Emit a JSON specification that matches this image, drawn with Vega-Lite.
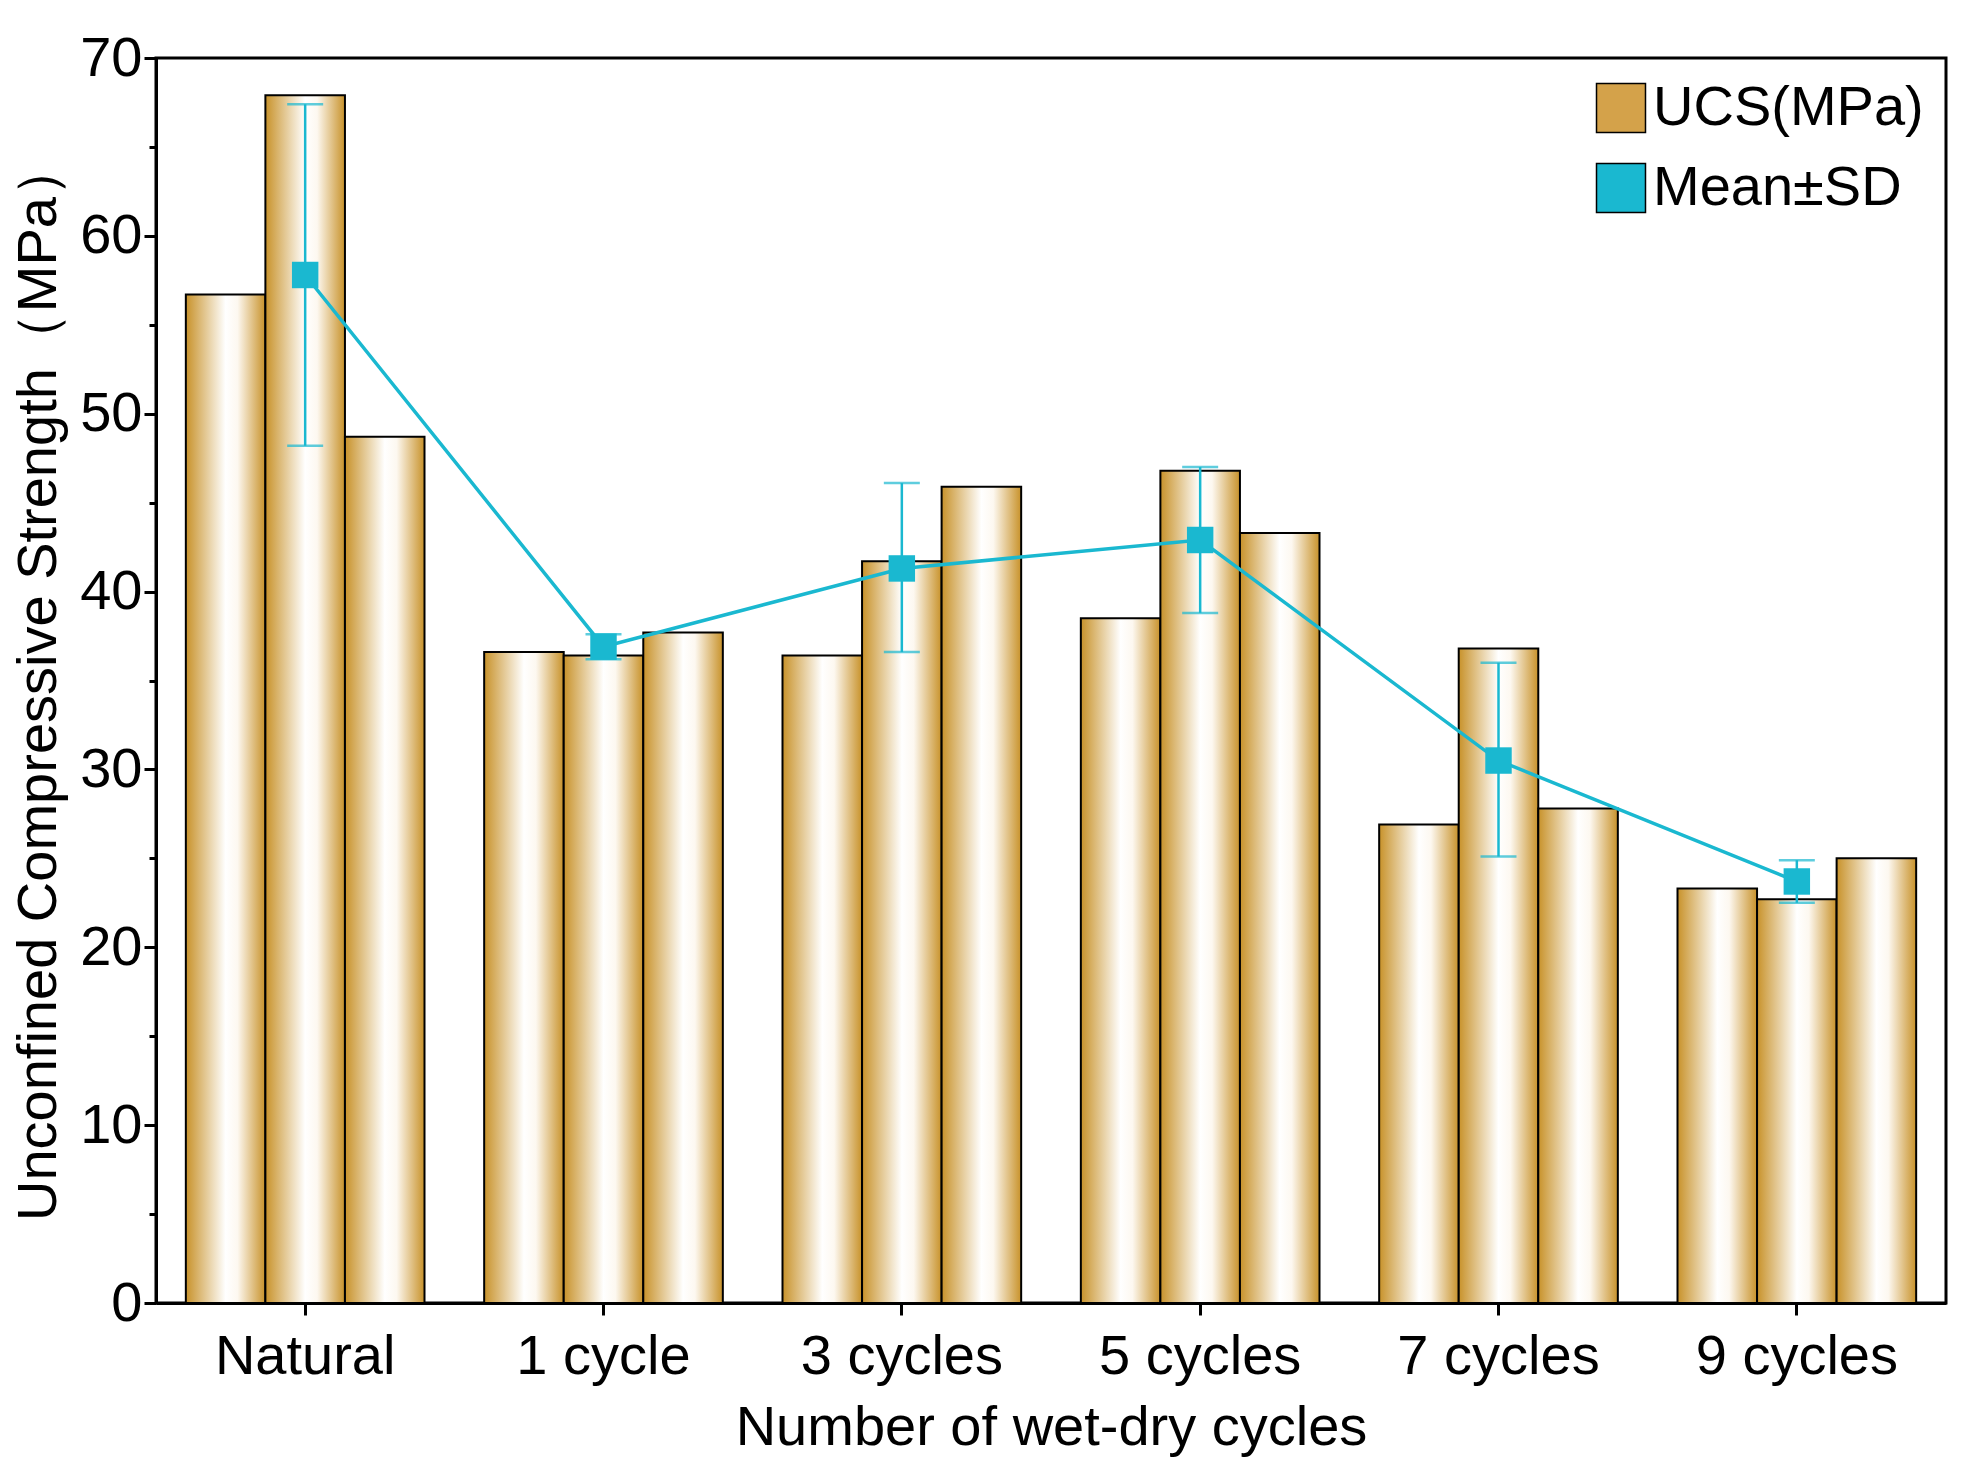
{
  "$schema": "https://vega.github.io/schema/vega-lite/v6.json",
  "width": 1790,
  "height": 1245,
  "background": "white",
  "padding": {"left": 10, "top": 30, "right": 8, "bottom": 5},
  "datasets": {
    "bars": [
      {"cycle": "Natural", "sample": 1, "ucs": 56.7},
      {"cycle": "Natural", "sample": 2, "ucs": 67.9},
      {"cycle": "Natural", "sample": 3, "ucs": 48.7},
      {"cycle": "1 cycle", "sample": 1, "ucs": 36.6},
      {"cycle": "1 cycle", "sample": 2, "ucs": 36.4},
      {"cycle": "1 cycle", "sample": 3, "ucs": 37.7},
      {"cycle": "3 cycles", "sample": 1, "ucs": 36.4},
      {"cycle": "3 cycles", "sample": 2, "ucs": 41.7},
      {"cycle": "3 cycles", "sample": 3, "ucs": 45.9},
      {"cycle": "5 cycles", "sample": 1, "ucs": 38.5},
      {"cycle": "5 cycles", "sample": 2, "ucs": 46.8},
      {"cycle": "5 cycles", "sample": 3, "ucs": 43.3},
      {"cycle": "7 cycles", "sample": 1, "ucs": 26.9},
      {"cycle": "7 cycles", "sample": 2, "ucs": 36.8},
      {"cycle": "7 cycles", "sample": 3, "ucs": 27.8},
      {"cycle": "9 cycles", "sample": 1, "ucs": 23.3},
      {"cycle": "9 cycles", "sample": 2, "ucs": 22.7},
      {"cycle": "9 cycles", "sample": 3, "ucs": 25.0}
    ],
    "stats": [
      {"cycle": "Natural", "mean": 57.8, "lo": 48.2, "hi": 67.4, "series": "Mean±SD"},
      {"cycle": "1 cycle", "mean": 36.9, "lo": 36.2, "hi": 37.6, "series": "Mean±SD"},
      {"cycle": "3 cycles", "mean": 41.3, "lo": 36.6, "hi": 46.1, "series": "Mean±SD"},
      {"cycle": "5 cycles", "mean": 42.9, "lo": 38.8, "hi": 47.0, "series": "Mean±SD"},
      {"cycle": "7 cycles", "mean": 30.5, "lo": 25.1, "hi": 36.0, "series": "Mean±SD"},
      {"cycle": "9 cycles", "mean": 23.7, "lo": 22.5, "hi": 24.9, "series": "Mean±SD"}
    ]
  },
  "encoding": {
    "x": {
      "field": "cycle", "type": "nominal",
      "sort": ["Natural", "1 cycle", "3 cycles", "5 cycles", "7 cycles", "9 cycles"],
      "scale": {"paddingInner": 0.2, "paddingOuter": 0.1},
      "title": "Number of wet-dry cycles",
      "axis": {"labelAngle": 0, "labelPadding": 14, "tickSize": 12, "titlePadding": 16}
    }
  },
  "layer": [
    {
      "data": {"name": "bars"},
      "mark": {
        "type": "bar",
        "stroke": "black",
        "strokeWidth": 2,
        "color": {
          "gradient": "linear", "x1": 0, "y1": 0, "x2": 1, "y2": 0,
          "stops": [
            {"offset": 0, "color": "#c8922a"},
            {"offset": 0.5, "color": "#ffffff"},
            {"offset": 0.65, "color": "#fdf8f0"},
            {"offset": 1, "color": "#c8922a"}
          ]
        }
      },
      "encoding": {
        "xOffset": {"field": "sample", "type": "nominal", "scale": {"paddingInner": 0}},
        "y": {
          "field": "ucs", "type": "quantitative",
          "scale": {"domain": [0, 70], "nice": false},
          "title": "Unconfined Compressive Strength（MPa）",
          "axis": {
            "values": [0, 5, 10, 15, 20, 25, 30, 35, 40, 45, 50, 55, 60, 65, 70],
            "labelExpr": "datum.value % 10 === 0 ? datum.label : ''",
            "tickSize": {"condition": {"test": "datum.value % 10 === 0", "value": 12}, "value": 7},
            "titlePadding": 12
          }
        }
      }
    },
    {
      "data": {"name": "stats"},
      "mark": {"type": "rule", "color": "#1ab8d0", "strokeWidth": 2.5},
      "encoding": {"y": {"field": "lo", "type": "quantitative"}, "y2": {"field": "hi"}}
    },
    {
      "data": {"name": "stats"},
      "mark": {"type": "tick", "color": "#1ab8d0", "thickness": 2.5, "size": 36},
      "encoding": {"y": {"field": "lo", "type": "quantitative"}}
    },
    {
      "data": {"name": "stats"},
      "mark": {"type": "tick", "color": "#1ab8d0", "thickness": 2.5, "size": 36},
      "encoding": {"y": {"field": "hi", "type": "quantitative"}}
    },
    {
      "data": {"name": "stats"},
      "mark": {"type": "line", "strokeWidth": 3.5, "color": "#1ab8d0"},
      "encoding": {"y": {"field": "mean", "type": "quantitative"}}
    },
    {
      "data": {"name": "stats"},
      "mark": {"type": "square", "size": 700, "opacity": 1, "filled": true},
      "encoding": {
        "y": {"field": "mean", "type": "quantitative"},
        "color": {
          "field": "series", "type": "nominal",
          "scale": {"domain": ["UCS(MPa)", "Mean±SD"], "range": ["#d4a24a", "#1ab8d0"]},
          "legend": {
            "title": null, "orient": "top-right", "symbolType": "square",
            "symbolSize": 2400, "labelFontSize": 56, "rowPadding": 24, "labelLimit": 0,
            "symbolOpacity": 1, "symbolStrokeColor": "black", "symbolStrokeWidth": 1.5,
            "offset": 22
          }
        }
      }
    }
  ],
  "config": {
    "font": "Liberation Sans",
    "view": {"stroke": "black", "strokeWidth": 3},
    "axis": {
      "grid": false, "labelLimit": 0,
      "domainColor": "black", "domainWidth": 3,
      "tickColor": "black", "tickWidth": 3,
      "labelFontSize": 56, "labelColor": "black",
      "titleFontSize": 56, "titleFontWeight": "normal", "titleColor": "black"
    },
    "legend": {"labelColor": "black"}
  }
}
